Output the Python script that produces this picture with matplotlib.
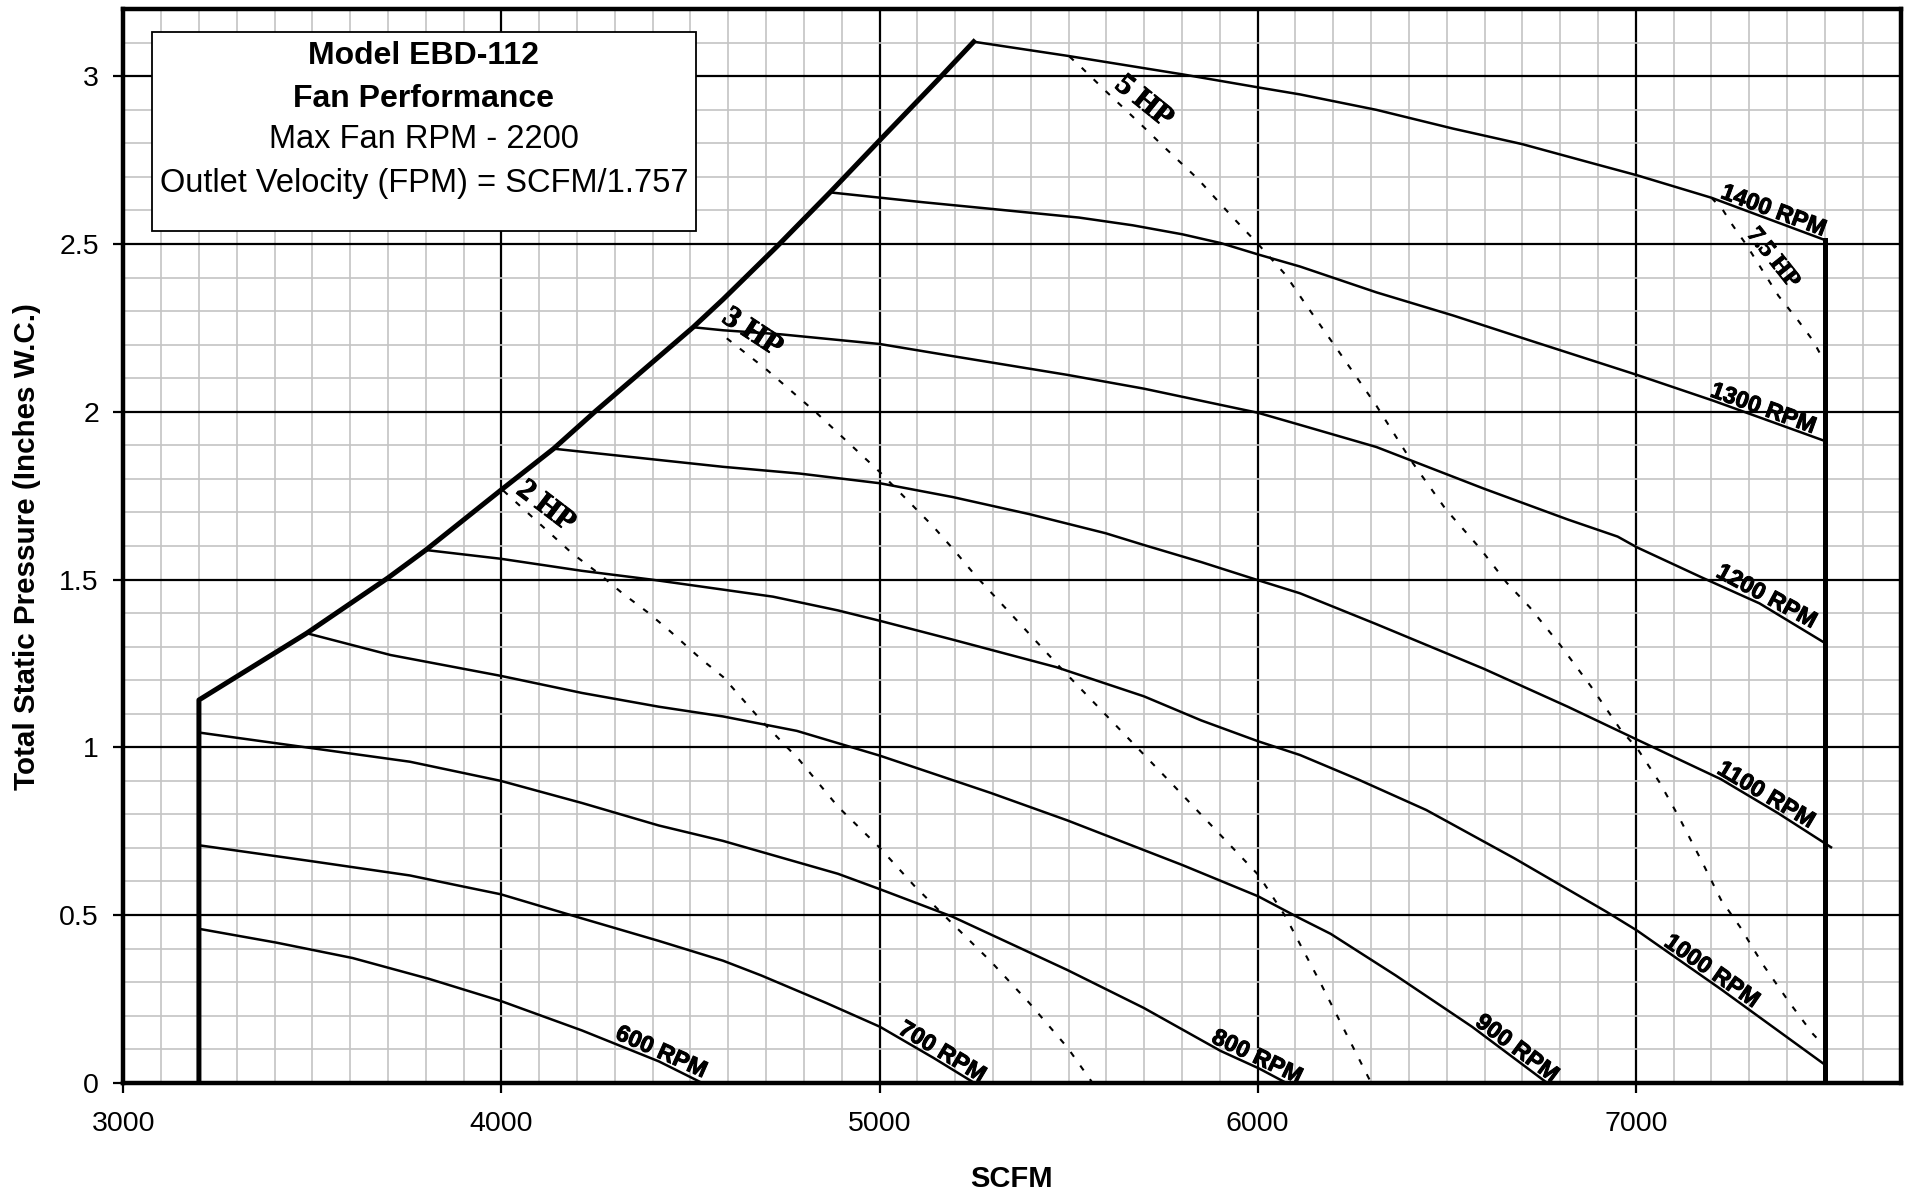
import numpy as np
import matplotlib
matplotlib.use("Agg")
import matplotlib.pyplot as plt
import matplotlib.patheffects as pe
from matplotlib.patches import Rectangle
from matplotlib.ticker import MultipleLocator

plt.rcParams["font.family"] = ["Liberation Sans", "DejaVu Sans"]

# ---------------- axes ----------------
x_ticks = [3000, 4000, 5000, 6000, 7000]
x_tick_labels = ["3000", "4000", "5000", "6000", "7000"]
y_ticks = [0, 0.5, 1, 1.5, 2, 2.5, 3]
y_tick_labels = ["0", "0.5", "1", "1.5", "2", "2.5", "3"]

# ---------------- operating envelope ----------------
envelope_left_x = [3200, 3200, 3485, 3700, 3800, 3998, 4138, 4249, 4507,
                   4586, 4728, 4869, 5001, 5153, 5249]
envelope_left_y = [0.0, 1.141, 1.340, 1.505, 1.588, 1.766, 1.890, 2.002, 2.252,
                   2.335, 2.492, 2.654, 2.810, 2.988, 3.103]
envelope_right_x = [7500, 7500]
envelope_right_y = [2.512, 0.0]

# ---------------- fan speed curves (SCFM, in. W.C.) ----------------
rpm_600_x = [3200, 3404, 3606, 3808, 3998, 4213, 4416, 4530]
rpm_600_y = [0.459, 0.418, 0.372, 0.310, 0.244, 0.156, 0.064, 0.0]

rpm_700_x = [3200, 3495, 3758, 3890, 3998, 4213, 4416, 4586, 4687, 4859, 5001, 5143, 5250]
rpm_700_y = [0.708, 0.661, 0.618, 0.587, 0.562, 0.490, 0.423, 0.364, 0.320, 0.238, 0.167, 0.074, 0.0]

rpm_800_x = [3200, 3495, 3758, 3998, 4213, 4416, 4586, 4890, 5001, 5193, 5497, 5699, 5902, 6003, 6075]
rpm_800_y = [1.044, 0.998, 0.957, 0.900, 0.834, 0.767, 0.721, 0.623, 0.577, 0.495, 0.336, 0.223, 0.095, 0.043, 0.0]

rpm_900_x = [3485, 3707, 3998, 4213, 4416, 4586, 4781, 5001, 5294, 5497, 5801, 6001, 6112, 6193,
             6365, 6567, 6765]
rpm_900_y = [1.340, 1.275, 1.213, 1.162, 1.121, 1.092, 1.049, 0.975, 0.864, 0.782, 0.649, 0.556, 0.490,
             0.444, 0.320, 0.167, 0.0]

rpm_1000_x = [3800, 3998, 4213, 4396, 4586, 4718, 4890, 5001, 5193, 5467, 5699, 5851, 6001, 6112,
              6264, 6446, 6679, 6922, 7003, 7225, 7500]
rpm_1000_y = [1.588, 1.562, 1.526, 1.500, 1.470, 1.449, 1.408, 1.377, 1.321, 1.239, 1.152, 1.080, 1.018,
              0.977, 0.905, 0.813, 0.669, 0.510, 0.454, 0.279, 0.054]

rpm_1100_x = [4138, 4586, 4788, 5001, 5193, 5396, 5598, 5699, 5851, 6001, 6112, 6314, 6598, 6820,
              7003, 7225, 7377, 7500, 7519]
rpm_1100_y = [1.890, 1.836, 1.816, 1.787, 1.746, 1.695, 1.638, 1.603, 1.552, 1.498, 1.459, 1.367, 1.234,
              1.121, 1.023, 0.905, 0.803, 0.714, 0.700]

rpm_1200_x = [4507, 4586, 4738, 5001, 5193, 5497, 5699, 5871, 6001, 6112, 6314, 6598, 6820, 6952,
              7003, 7175, 7327, 7500]
rpm_1200_y = [2.252, 2.243, 2.231, 2.202, 2.166, 2.110, 2.069, 2.028, 1.997, 1.961, 1.895, 1.771, 1.679,
              1.628, 1.596, 1.506, 1.429, 1.311]

rpm_1300_x = [4869, 5112, 5294, 5527, 5669, 5801, 5902, 6001, 6112, 6314, 6517, 6719, 7003, 7205, 7500]
rpm_1300_y = [2.654, 2.625, 2.605, 2.579, 2.556, 2.529, 2.503, 2.469, 2.433, 2.356, 2.287, 2.213, 2.110,
              2.033, 1.913]

rpm_1400_x = [5249, 5497, 5800, 6001, 6112, 6314, 6517, 6699, 6901, 7003, 7200, 7500]
rpm_1400_y = [3.103, 3.061, 3.006, 2.967, 2.946, 2.900, 2.844, 2.798, 2.736, 2.705, 2.638, 2.512]

rpm_names = ["600 RPM", "700 RPM", "800 RPM", "900 RPM", "1000 RPM",
             "1100 RPM", "1200 RPM", "1300 RPM", "1400 RPM"]

# ---------------- brake horsepower lines ----------------
hp_2_x = [4005, 4188, 4254, 4320, 4386, 4446, 4527, 4586, 4687, 4788, 4890, 5001, 5092, 5193,
          5294, 5396, 5497, 5563]
hp_2_y = [1.765, 1.577, 1.521, 1.459, 1.403, 1.346, 1.264, 1.210, 1.080, 0.962, 0.823, 0.700, 0.587,
          0.474, 0.362, 0.238, 0.105, 0.0]

hp_3_x = [4596, 4702, 4834, 5001, 5142, 5193, 5252, 5477, 5770, 6003, 6074, 6112, 6165, 6300]
hp_3_y = [2.219, 2.125, 1.996, 1.820, 1.658, 1.593, 1.514, 1.239, 0.895, 0.618, 0.495, 0.413, 0.300, 0.0]

hp_5_x = [5502, 5537, 5598, 5689, 5750, 5841, 5932, 6001, 6074, 6124, 6213, 6314, 6406, 6497, 6588,
          6659, 6719, 6800, 6881, 6962, 7003, 7063, 7114, 7175, 7225, 7276, 7337, 7407, 7468, 7494]
hp_5_y = [3.059, 3.023, 2.956, 2.859, 2.792, 2.695, 2.582, 2.500, 2.408, 2.325, 2.182, 2.018, 1.854,
          1.710, 1.593, 1.490, 1.418, 1.305, 1.182, 1.049, 0.998, 0.895, 0.792, 0.659, 0.546, 0.464,
          0.351, 0.238, 0.146, 0.115]

hp_7_5_x = [7200, 7230, 7256, 7291, 7377, 7428, 7468, 7488]
hp_7_5_y = [2.638, 2.602, 2.556, 2.500, 2.346, 2.274, 2.213, 2.172]

hp_names = ["2 HP", "3 HP", "5 HP", "7.5 HP"]

info_lines = ["Model EBD-112", "Fan Performance", "Max Fan RPM - 2200",
              "Outlet Velocity (FPM) = SCFM/1.757"]

# ---------------- figure ----------------
fig = plt.figure(figsize=(19.14, 11.96), dpi=100)
ax = fig.add_axes([0.06442, 0.09465, 0.92853, 0.89766])
ax.set_xlim(3000, 7700)
ax.set_ylim(0, 3.2)

ax.set_xticks(x_ticks)
ax.set_xticklabels(x_tick_labels)
ax.set_yticks(y_ticks)
ax.set_yticklabels(y_tick_labels)
ax.xaxis.set_minor_locator(MultipleLocator(100))
ax.yaxis.set_minor_locator(MultipleLocator(0.1))
ax.tick_params(which="minor", length=0)
ax.tick_params(which="major", direction="out", length=7.5, width=1.6,
               labelsize=20.5, colors="black")
ax.tick_params(axis="x", pad=13)
ax.tick_params(axis="y", pad=10)
ax.grid(which="minor", color="#c4c4c4", lw=1.2)
ax.grid(which="major", color="black", lw=1.6)
ax.set_axisbelow(True)
for sp in ax.spines.values():
    sp.set_linewidth(3.2)

# horsepower lines
dash = (0, (2.8, 5.2))
hp_curves = [(hp_2_x, hp_2_y), (hp_3_x, hp_3_y), (hp_5_x, hp_5_y), (hp_7_5_x, hp_7_5_y)]
for hx, hy in hp_curves:
    ax.plot(hx, hy, color="black", lw=1.5, linestyle=dash, zorder=2)

# fan speed curves
rpm_curves = [(rpm_600_x, rpm_600_y), (rpm_700_x, rpm_700_y), (rpm_800_x, rpm_800_y),
              (rpm_900_x, rpm_900_y), (rpm_1000_x, rpm_1000_y), (rpm_1100_x, rpm_1100_y),
              (rpm_1200_x, rpm_1200_y), (rpm_1300_x, rpm_1300_y), (rpm_1400_x, rpm_1400_y)]
for cx, cy in rpm_curves:
    ax.plot(cx, cy, color="black", lw=1.8, solid_capstyle="butt", zorder=3)

# envelope
ax.plot(envelope_left_x, envelope_left_y, color="black", lw=3.6, zorder=4,
        solid_joinstyle="round")
ax.plot(envelope_right_x, envelope_right_y, color="black", lw=3.6, zorder=4)

heavy = [pe.withStroke(linewidth=0.7, foreground="black")]


def local_angle(xs, ys, x_at, half=40):
    p0 = ax.transData.transform((x_at - half, np.interp(x_at - half, xs, ys)))
    p1 = ax.transData.transform((x_at + half, np.interp(x_at + half, xs, ys)))
    return np.degrees(np.arctan2(p1[1] - p0[1], p1[0] - p0[0]))


def label_on_curve(xs, ys, x_at, text, size, offset_px=3.0):
    ang = local_angle(xs, ys, x_at)
    pc = ax.transData.transform((x_at, np.interp(x_at, xs, ys)))
    nrm = np.array([-np.sin(np.radians(ang)), np.cos(np.radians(ang))])
    px, py = ax.transData.inverted().transform(pc + nrm * offset_px)
    ax.text(px, py, text, rotation=ang, rotation_mode="anchor", ha="center",
            va="baseline", fontsize=size, fontweight="bold", zorder=6, path_effects=heavy)


rpm_label_x = [4413, 5153, 5988, 6671, 7187, 7332, 7334, 7329, 7356]
for (cx, cy), name, lx in zip(rpm_curves, rpm_names, rpm_label_x):
    label_on_curve(cx, cy, lx, name, 16.8)

hp_label_pos = [(4117, 1.718), (4663, 2.236), (5699, 2.924), (7362, 2.457)]
hp_label_size = [22, 22, 22, 17.5]
for (hx, hy), name, (lx, ly), fs in zip(hp_curves, hp_names, hp_label_pos, hp_label_size):
    ang = local_angle(hx, hy, lx, half=30) + 5
    ax.text(lx, ly, name, rotation=ang, rotation_mode="anchor", ha="center", va="center",
            fontsize=fs, fontweight="bold", family=["Liberation Serif", "DejaVu Serif"],
            zorder=6, path_effects=heavy)

# information box
ax.add_patch(Rectangle((3077, 2.540), 4514 - 3077, 3.131 - 2.540, facecolor="white",
                       edgecolor="black", lw=1.3, zorder=5))
box_cx = 3795
for text, yb, wt, fs in zip(info_lines, [3.0366, 2.9076, 2.7854, 2.656],
                            ["bold", "bold", "normal", "normal"], [23, 23, 23.5, 23.5]):
    ax.text(box_cx, yb, text, ha="center", va="baseline", fontsize=fs, fontweight=wt,
            zorder=6)

# axis titles
fig.text(1011.9 / 1914, 1 - 1179.2 / 1196, "SCFM", ha="center", va="center",
         fontsize=21, fontweight="bold")
fig.text(27 / 1914, 1 - 547 / 1196, "Total Static Pressure (Inches W.C.)", ha="center",
         va="center", rotation=90, fontsize=21.3, fontweight="bold")

fig.savefig("out.png", dpi=100)
